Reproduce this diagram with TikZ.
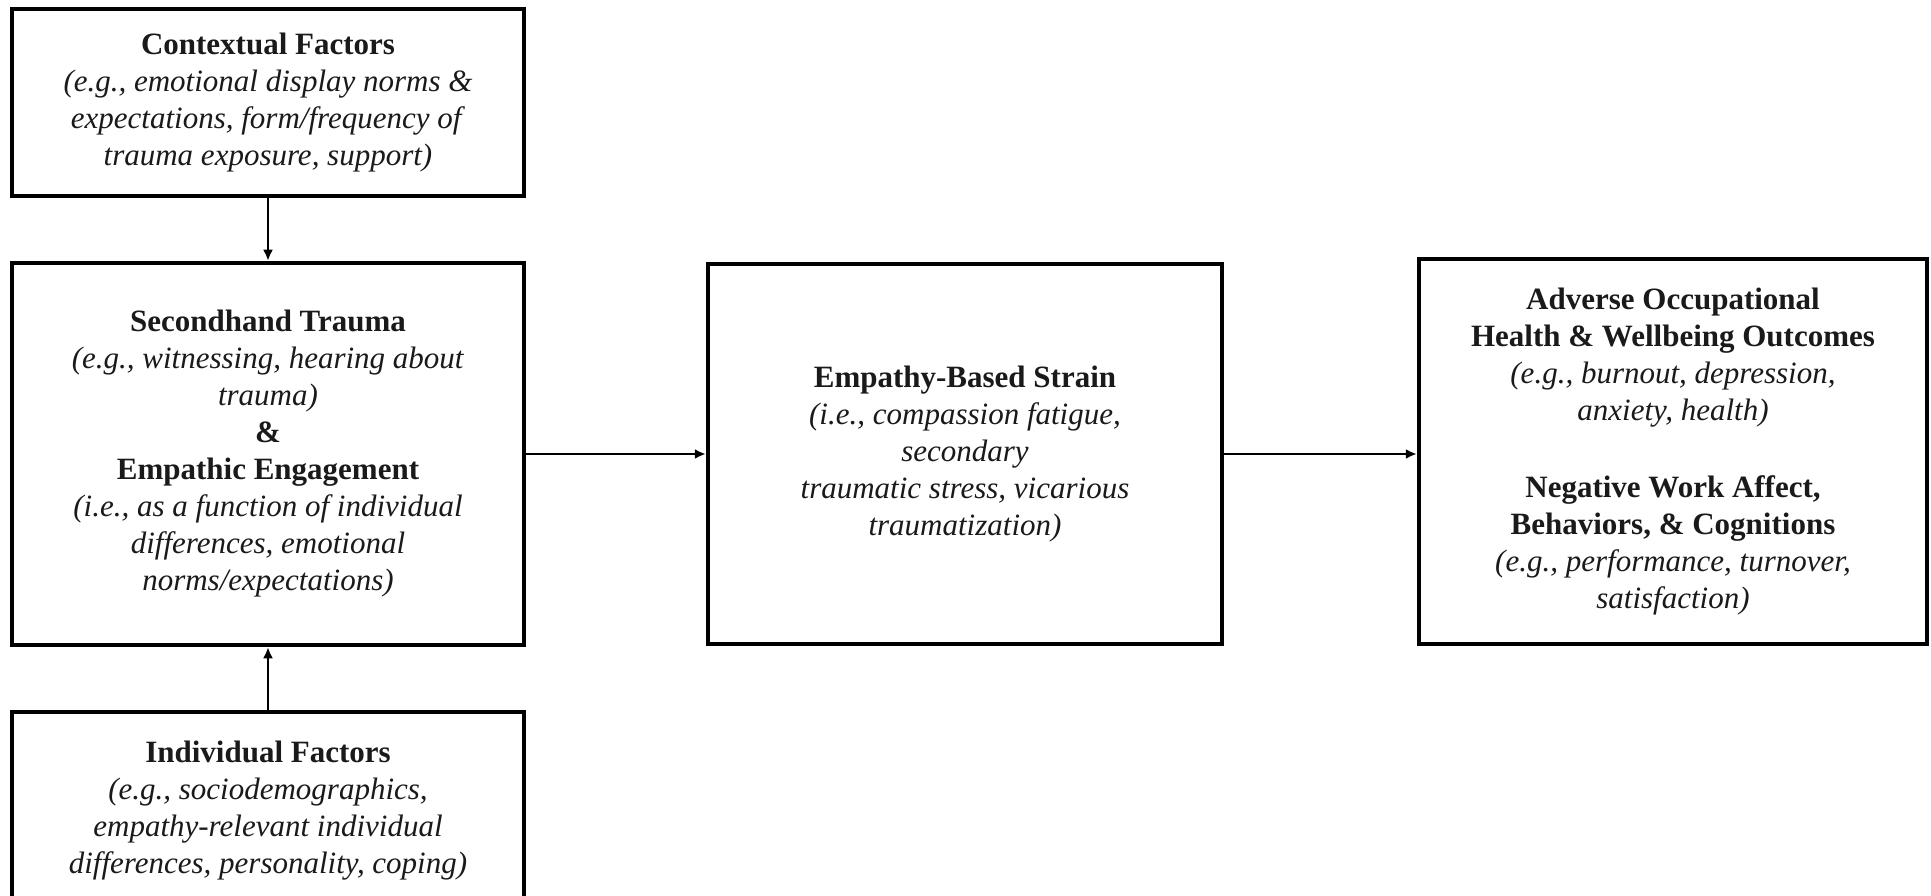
\documentclass[tikz,border=0pt]{standalone}
\usepackage{fontspec}
\setmainfont{Liberation Serif}
\usetikzlibrary{arrows.meta}
\definecolor{txt}{HTML}{1A1A1A}
\begin{document}
\begin{tikzpicture}[x=1pt,y=-1pt,
  boxnode/.style={draw=black, line width=4.5pt, inner sep=0pt, align=center,
    text=txt, font=\fontsize{31}{37}\selectfont},
  conn/.style={line width=2.4pt, -{Latex[length=11pt,width=10pt]}}]
\path[use as bounding box, fill=white] (0,0) rectangle (1931,896);
\clip (0,0) rectangle (1931,896);

\node[boxnode, minimum width=512pt, minimum height=187pt] (ctx) at (268,102.5)
  {\textbf{Contextual Factors}\\
   \textit{(e.g., emotional display norms \&}\\
   \textit{expectations, form/frequency of}\\
   \textit{trauma exposure, support)}};

\node[boxnode, minimum width=512pt, minimum height=382pt] (sh) at (268,454)
  {\textbf{Secondhand Trauma}\\
   \textit{(e.g., witnessing, hearing about}\\
   \textit{trauma)}\\
   \textbf{\&}\\
   \textbf{Empathic Engagement}\\
   \textit{(i.e., as a function of individual}\\
   \textit{differences, emotional}\\
   \textit{norms/expectations)}};

\node[boxnode, minimum width=512pt, minimum height=198pt] (ind) at (268,811)
  {\textbf{Individual Factors}\\
   \textit{(e.g., sociodemographics,}\\
   \textit{empathy-relevant individual}\\
   \textit{differences, personality, coping)}};

\node[boxnode, minimum width=514pt, minimum height=380pt] (ebs) at (965,454)
  {\textbf{Empathy-Based Strain}\\
   \textit{(i.e., compassion fatigue,}\\
   \textit{secondary}\\
   \textit{traumatic stress, vicarious}\\
   \textit{traumatization)}};

\node[boxnode, minimum width=508pt, minimum height=385pt] (adv) at (1673,451.5)
  {\textbf{Adverse Occupational}\\
   \textbf{Health \& Wellbeing Outcomes}\\
   \textit{(e.g., burnout, depression,}\\
   \textit{anxiety, health)}\\[40pt]
   \textbf{Negative Work Affect,}\\
   \textbf{Behaviors, \& Cognitions}\\
   \textit{(e.g., performance, turnover,}\\
   \textit{satisfaction)}};

\draw[conn] (ctx.south) -- (sh.north);
\draw[conn] (ind.north) -- (sh.south);
\draw[conn] (sh.east) -- (ebs.west);
\draw[conn] (ebs.east) -- (ebs.east -| adv.west);
\end{tikzpicture}
\end{document}
